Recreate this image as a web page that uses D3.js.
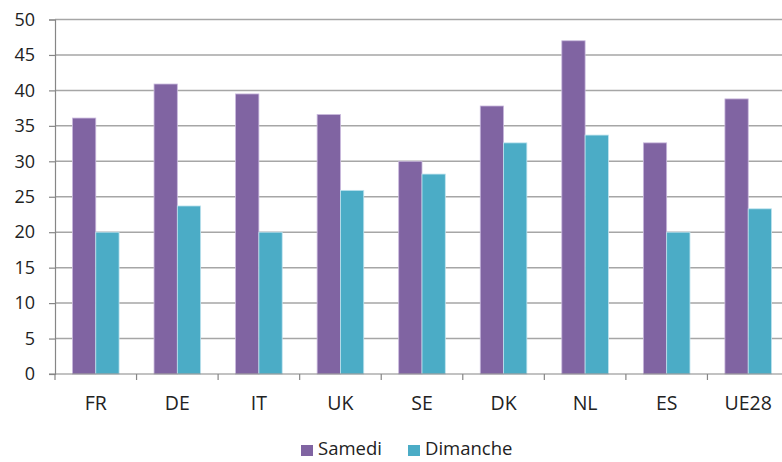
<!DOCTYPE html>
<html><head><meta charset="utf-8">
<script src="https://cdn.jsdelivr.net/npm/d3@7"></script>
<style>body{margin:0;background:#fff;} text{font-family:"Open Sans","Liberation Sans",sans-serif;fill:#222;}</style>
</head><body>
<svg id="c" width="782" height="462"></svg>
<script>
const categories = ["FR","DE","IT","UK","SE","DK","NL","ES","UE28"];
const samedi   = [36.1, 40.9, 39.5, 36.6, 30.0, 37.8, 47.0, 32.6, 38.8];
const dimanche = [20.0, 23.7, 20.0, 25.9, 28.2, 32.6, 33.7, 20.0, 23.3];
const seriesNames = ["Samedi","Dimanche"];
const colors = ["#8064A2","#4BACC6"];
const yTicks = [0,5,10,15,20,25,30,35,40,45,50];

(function(){
const svg = d3.select("#c");
const mLeft = 55, mRight = 789, mTop = 19.5, mBottom = 374;
const x = d3.scaleBand().domain(categories).range([mLeft, mRight]).paddingInner(0).paddingOuter(0);
const y = d3.scaleLinear().domain([0,50]).range([mBottom, mTop]);

// gridlines
svg.append("g").selectAll("line").data(yTicks.filter(d=>d>0)).join("line")
  .attr("x1", mLeft).attr("x2", 782).attr("y1", d=>y(d)).attr("y2", d=>y(d))
  .attr("stroke", "#A6A6A6").attr("stroke-width", 1.5);

// bars
const data = [samedi, dimanche];
const bw = x.bandwidth()/3.5;
const inner = d3.scaleBand().domain(seriesNames).range([0.75*bw, 2.75*bw]);
seriesNames.forEach((s,si)=>{
  svg.append("g").selectAll("rect").data(categories).join("rect")
    .attr("x", (c)=>x(c)+inner(s))
    .attr("width", inner.bandwidth())
    .attr("y", (c,i)=>y(data[si][i]))
    .attr("height", (c,i)=>y(0)-y(data[si][i]))
    .attr("fill", colors[si])
    .attr("stroke", si===0 ? "#C9B9DD" : "#BFE3EE").attr("stroke-width", 0.8);
});

// y axis
const ya = d3.axisLeft(y).tickValues(yTicks).tickSize(6).tickPadding(14).tickFormat(d3.format("d"));
const gy = svg.append("g").attr("transform", `translate(${mLeft},0)`).call(ya);
gy.select(".domain").attr("stroke","#868686").attr("stroke-width",1.2);
gy.selectAll(".tick line").attr("stroke","#868686").attr("stroke-width",1.2);
gy.selectAll(".tick text").style("font-size","18px").attr("fill","#222");

// x axis
const gx = svg.append("g").attr("transform", `translate(0,${mBottom})`);
gx.append("line").attr("x1", mLeft-6).attr("x2", 782).attr("y1",0).attr("y2",0)
  .attr("stroke","#868686").attr("stroke-width",1.2);
const bounds = categories.map(c=>x(c)).concat([mRight]);
gx.selectAll(".tk").data(bounds).join("line").attr("class","tk")
  .attr("x1", d=>d).attr("x2", d=>d).attr("y1",0).attr("y2",6)
  .attr("stroke","#868686").attr("stroke-width",1.2);
gx.selectAll(".lbl").data(categories).join("text").attr("class","lbl")
  .attr("x", c=>x(c)+x.bandwidth()/2).attr("y", 36)
  .attr("text-anchor","middle").style("font-size","19.5px").text(d=>d);

// legend
const legend = svg.append("g");
const items = [{n:seriesNames[0],c:colors[0],x:301},{n:seriesNames[1],c:colors[1],x:408}];
items.forEach(it=>{
  legend.append("rect").attr("x", it.x).attr("y", 445).attr("width",12).attr("height",11).attr("fill",it.c);
  legend.append("text").attr("x", it.x+17).attr("y", 455).style("font-size","18.5px").text(it.n);
});
})();
</script>
</body></html>
